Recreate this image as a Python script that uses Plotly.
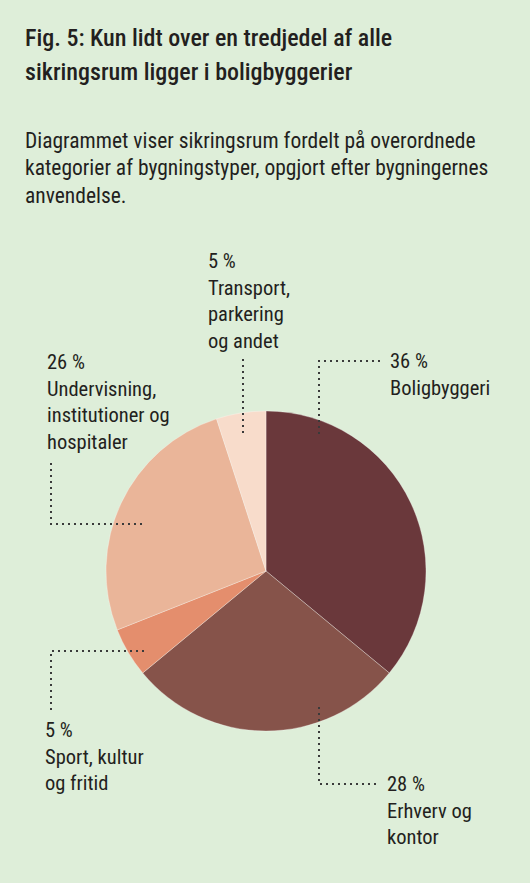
import plotly.graph_objects as go

W, H = 530, 883

# data, clockwise from 12 o'clock
categories = ["Boligbyggeri", "Erhverv og kontor", "Sport, kultur og fritid",
              "Undervisning, institutioner og hospitaler", "Transport, parkering og andet"]
shares = [36, 28, 5, 26, 5]
colors = ["#6a383b", "#86534a", "#e48e6d", "#eab599", "#f8dccb"]

label_texts = [
    "36 %<br>Boligbyggeri",
    "28 %<br>Erhverv og<br>kontor",
    "5 %<br>Sport, kultur<br>og fritid",
    "26 %<br>Undervisning,<br>institutioner og<br>hospitaler",
    "5 %<br>Transport,<br>parkering<br>og andet",
]

BG = "#deeed9"
INK = "#231f20"
FONT = "Roboto Condensed, Liberation Sans Narrow, sans-serif"


def px_x(x):
    return x / W


def px_y(y):
    return 1 - y / H


fig = go.Figure()
fig.add_trace(go.Pie(
    labels=categories, values=shares, sort=False, direction="clockwise", rotation=0,
    marker=dict(colors=colors, line=dict(color="rgba(255,255,255,0.5)", width=0.6)),
    textinfo="none", hoverinfo="label+percent", showlegend=False,
    domain=dict(x=[px_x(106), px_x(426)], y=[px_y(731), px_y(411)]),
))

annotations = []

# title + subtitle, one annotation per line
title_lines = [("Fig. 5: Kun lidt over en tredjedel af alle", 22),
               ("sikringsrum ligger i boligbyggerier", 56)]
for txt, top in title_lines:
    annotations.append(dict(text=txt, x=px_x(23), y=px_y(top),
                            xanchor="left", yanchor="top", showarrow=False,
                            font=dict(family=FONT, size=24, weight=500, color=INK)))

sub_lines = [("Diagrammet viser sikringsrum fordelt på overordnede", 126),
             ("kategorier af bygningstyper, opgjort efter bygningernes", 153),
             ("anvendelse.", 181)]
for txt, top in sub_lines:
    annotations.append(dict(text=txt, x=px_x(23), y=px_y(top),
                            xanchor="left", yanchor="top", showarrow=False,
                            font=dict(family=FONT, size=21.5, color=INK)))

# slice labels (left x, top y in pixels)
label_pos = [(388, 347), (385, 770), (43, 716), (45, 348), (206, 247)]
for txt, (lx, ty) in zip(label_texts, label_pos):
    annotations.append(dict(text=txt, x=px_x(lx), y=px_y(ty), xanchor="left",
                            yanchor="top", align="left", showarrow=False,
                            font=dict(family=FONT, size=20.5, color=INK)))

# dotted leader lines
leaders = [
    [(380, 361), (319, 361), (319, 435)],
    [(243, 359), (243, 435)],
    [(51, 463), (51, 524), (144, 524)],
    [(144, 651), (51, 651), (51, 712)],
    [(319, 707), (319, 784), (380, 784)],
]
shapes = []
for pts in leaders:
    path = "M " + " L ".join(f"{px_x(x)},{px_y(y)}" for x, y in pts)
    shapes.append(dict(type="path", xref="paper", yref="paper", path=path,
                       line=dict(color="#3a3a3a", width=2, dash="2px,4px")))

fig.update_layout(
    width=W, height=H, margin=dict(l=0, r=0, t=0, b=0),
    paper_bgcolor=BG, plot_bgcolor=BG,
    annotations=annotations, shapes=shapes,
)

fig.write_html("out.html", config={"displayModeBar": False},
               post_script="document.body.style.margin='0';")
